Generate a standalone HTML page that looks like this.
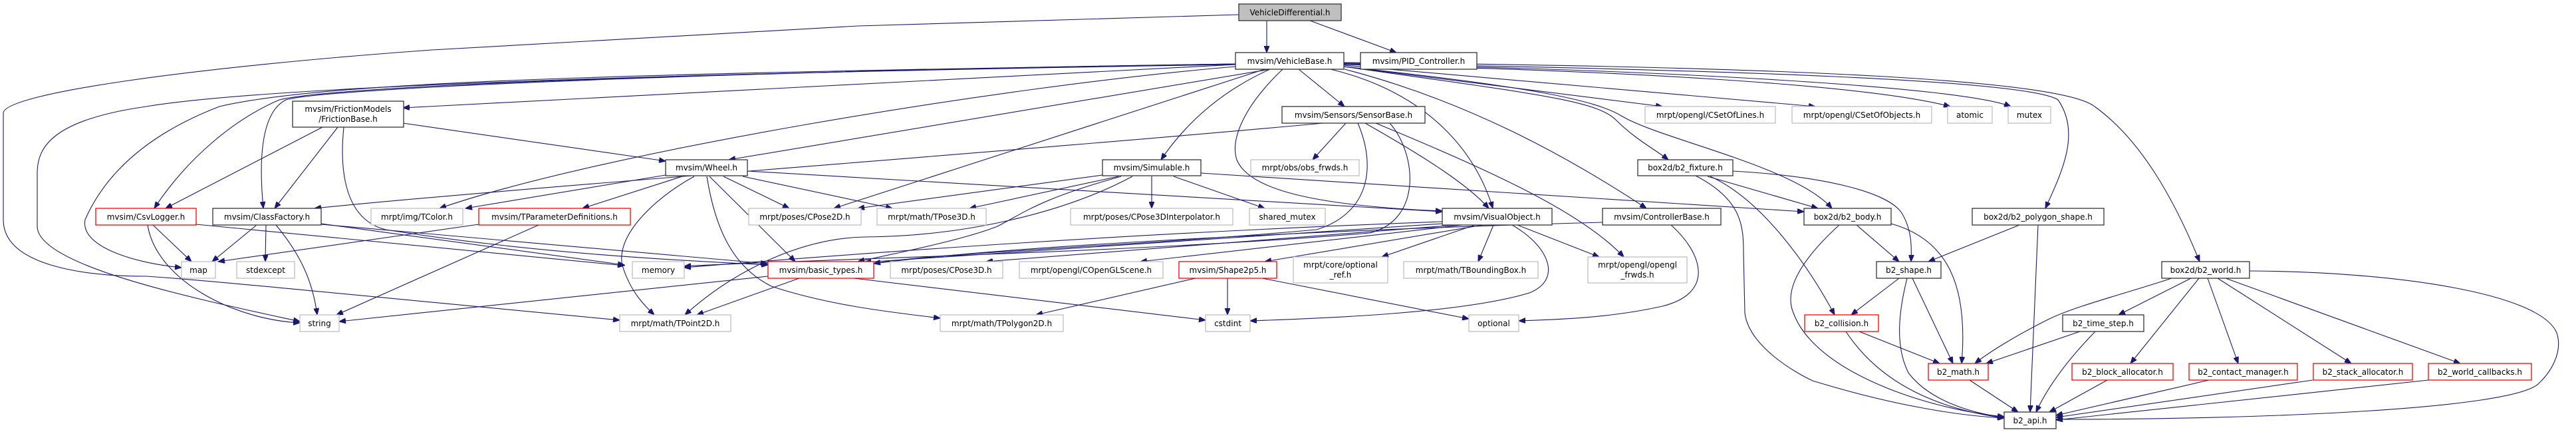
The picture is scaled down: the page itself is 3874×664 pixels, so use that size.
<!DOCTYPE html>
<html><head><meta charset="utf-8"><style>
html,body{margin:0;padding:0;background:#fff;}
svg{display:block;}
text{font-family:"DejaVu Sans","Liberation Sans",sans-serif;font-size:12px;fill:#000;text-anchor:middle;}
.e{fill:none;stroke:#191970;stroke-width:1.1;marker-end:url(#a);}
.d{fill:#fff;stroke:#333;stroke-width:1.3;}
.g{fill:#fff;stroke:#bfbfbf;stroke-width:1.3;}
.r{fill:#fff;stroke:#ff0000;stroke-width:1.3;}
</style></head><body>
<svg width="3874" height="664" viewBox="0 0 3874 664" xmlns="http://www.w3.org/2000/svg">
<defs><marker id="a" markerUnits="userSpaceOnUse" markerWidth="11" markerHeight="8" refX="10" refY="4" orient="auto"><path d="M0,0 L10,4 L0,8 z" fill="#191970" stroke="#191970"/></marker></defs>
<g>
<path class="e" d="M1905,31 L1905,79"/>
<path class="e" d="M1970,31 L2100,79"/>
<path class="e" d="M1863,22 L1290,39 L650,75 C300,100 5,140 5,170 L5,330 C5,400 130,415 220,415 C300,420 500,440 932,481"/>
<path class="e" d="M1858,97 L606,162"/>
<path class="e" d="M1858,96 C1000,110 500,130 420,150 C350,180 280,240 232,313"/>
<path class="e" d="M1858,96 C1200,105 500,130 430,150 C390,170 390,250 396,313"/>
<path class="e" d="M1858,96 C1000,110 500,120 330,160 C200,210 150,280 128,330 C120,370 200,395 273,402"/>
<path class="e" d="M1858,97 C1000,110 400,130 220,160 C80,180 56,220 56,260 L56,340 C56,400 300,450 451,483"/>
<path class="e" d="M1858,100 C1500,130 900,230 661,313"/>
<path class="e" d="M1910,104 L1096,240"/>
<path class="e" d="M606,185 L1001,242"/>
<path class="e" d="M1902,104 L1254,313"/>
<path class="e" d="M1910,104 C1830,140 1780,190 1746,240"/>
<path class="e" d="M1929,104 C1870,160 1850,210 1860,240 C1880,290 2000,310 2169,317"/>
<path class="e" d="M2001,104 C2150,140 2220,230 2245,313"/>
<path class="e" d="M1953,104 L2022,160"/>
<path class="e" d="M2022,104 C2200,150 2350,230 2476,313"/>
<path class="e" d="M2021,100 C2300,140 2400,150 2430,180 C2460,210 2490,225 2509,240"/>
<path class="e" d="M2021,100 L2500,160"/>
<path class="e" d="M2021,100 C2300,130 2400,150 2440,175 C2500,210 2700,250 2755,313"/>
<path class="e" d="M2021,98 L2730,160"/>
<path class="e" d="M2021,97 C2400,105 2800,125 2933,160"/>
<path class="e" d="M2021,96 C2500,105 2950,130 3024,160"/>
<path class="e" d="M2021,95 C2600,105 3050,120 3095,150 C3130,200 3100,260 3076,313"/>
<path class="e" d="M2021,94 C2700,100 3100,120 3150,160 C3220,210 3270,300 3308,393"/>
<path class="e" d="M485,191 L249,313"/>
<path class="e" d="M508,191 L413,313"/>
<path class="e" d="M517,191 C510,260 520,330 580,345 C800,380 1000,390 1155,398"/>
<path class="e" d="M1990,185 C1500,230 800,280 473,313"/>
<path class="e" d="M2024,185 L1974,240"/>
<path class="e" d="M2053,185 C2150,240 2210,280 2239,313"/>
<path class="e" d="M2069,185 C2250,260 2380,320 2442,386"/>
<path class="e" d="M2042,185 C2070,250 2060,320 1980,345 C1700,370 1400,380 1314,396"/>
<path class="e" d="M2090,185 C2130,230 2140,330 2060,350 C1700,380 1200,390 1029,400"/>
<path class="e" d="M1026,265 L876,313"/>
<path class="e" d="M1001,263 L700,313"/>
<path class="e" d="M1044,265 C980,300 920,360 938,405 C950,440 970,460 984,473"/>
<path class="e" d="M1063,265 C1075,340 1100,400 1160,430 C1250,460 1350,470 1414,478"/>
<path class="e" d="M1067,265 L1196,393"/>
<path class="e" d="M1088,265 L1187,313"/>
<path class="e" d="M1117,265 L1342,313"/>
<path class="e" d="M1124,257 L2169,318"/>
<path class="e" d="M1658,263 L1290,313"/>
<path class="e" d="M1682,265 L1458,313"/>
<path class="e" d="M1732,265 L1732,313"/>
<path class="e" d="M1765,265 L1902,313"/>
<path class="e" d="M1686,265 C1560,300 1540,320 1500,340 C1450,360 1350,380 1290,393"/>
<path class="e" d="M1703,265 C1600,320 1450,355 1300,356 C1200,358 1100,410 1030,473"/>
<path class="e" d="M1806,260 L2713,318"/>
<path class="e" d="M2169,333 C1700,350 1300,380 1029,402"/>
<path class="e" d="M2169,336 C1800,360 1500,380 1300,394"/>
<path class="e" d="M2190,338 L1483,393"/>
<path class="e" d="M2200,338 L1715,393"/>
<path class="e" d="M2230,338 L1902,393"/>
<path class="e" d="M2218,338 L2078,386"/>
<path class="e" d="M2246,338 L2223,393"/>
<path class="e" d="M2282,338 L2405,386"/>
<path class="e" d="M2274,338 C2330,370 2350,420 2300,440 C2200,470 2000,478 1880,482"/>
<path class="e" d="M2410,334 C2000,345 1500,370 1300,398"/>
<path class="e" d="M2513,338 C2560,380 2580,440 2500,460 C2420,478 2340,480 2284,482"/>
<path class="e" d="M1798,418 L1558,473"/>
<path class="e" d="M1846,418 L1846,473"/>
<path class="e" d="M1898,418 L2209,479"/>
<path class="e" d="M1155,415 L510,483"/>
<path class="e" d="M810,338 L506,473"/>
<path class="e" d="M1202,418 L1048,473"/>
<path class="e" d="M1284,418 L1813,481"/>
<path class="e" d="M386,338 L319,393"/>
<path class="e" d="M400,338 L399,393"/>
<path class="e" d="M415,338 C450,380 470,420 477,473"/>
<path class="e" d="M483,337 L1154,396"/>
<path class="e" d="M483,336 L939,398"/>
<path class="e" d="M230,338 L288,393"/>
<path class="e" d="M222,338 C235,420 350,480 451,485"/>
<path class="e" d="M295,337 L939,399"/>
<path class="e" d="M720,337 L328,393"/>
<path class="e" d="M2568,265 L2734,313"/>
<path class="e" d="M2606,257 C2750,265 2840,290 2860,320 C2875,345 2875,370 2874,393"/>
<path class="e" d="M2572,265 C2650,300 2720,400 2759,473"/>
<path class="e" d="M2550,264 C2620,300 2622,340 2622,380 L2624,470 C2630,520 2700,560 2726,572 C2850,610 2950,625 3014,628"/>
<path class="e" d="M2792,338 L2856,393"/>
<path class="e" d="M2844,336 C2930,360 2960,430 2950,546"/>
<path class="e" d="M2766,338 C2720,380 2680,430 2697,470 C2730,560 2900,615 3014,626"/>
<path class="e" d="M3037,338 L2900,393"/>
<path class="e" d="M3065,338 L3053,619"/>
<path class="e" d="M2856,418 L2784,473"/>
<path class="e" d="M2876,418 L2937,546"/>
<path class="e" d="M2868,418 C2855,470 2850,520 2870,560 C2900,600 2960,620 3014,627"/>
<path class="e" d="M2796,498 L2917,546"/>
<path class="e" d="M2776,498 C2830,580 2920,615 3014,628"/>
<path class="e" d="M2962,571 L3035,619"/>
<path class="e" d="M3266,418 C3200,440 3120,460 3080,480 C3030,505 2990,530 2970,546"/>
<path class="e" d="M3295,418 L3186,473"/>
<path class="e" d="M3307,418 L3204,546"/>
<path class="e" d="M3320,418 L3366,546"/>
<path class="e" d="M3335,418 L3536,546"/>
<path class="e" d="M3347,418 L3700,546"/>
<path class="e" d="M3383,407 C3600,408 3820,440 3845,500 C3855,530 3835,560 3818,576 C3780,615 3400,630 3092,630"/>
<path class="e" d="M3128,498 L2987,546"/>
<path class="e" d="M3151,498 C3110,540 3080,580 3062,619"/>
<path class="e" d="M3169,571 L3082,619"/>
<path class="e" d="M3322,571 L3092,624"/>
<path class="e" d="M3478,571 L3092,627"/>
<path class="e" d="M3652,571 L3092,631"/>
</g>
<g>
<rect x="1863" y="6" width="154" height="25" fill="#bfbfbf" stroke="#333" stroke-width="1.3"/><text x="1940" y="23">VehicleDifferential.h</text>
<rect class="d" x="1858" y="79" width="163" height="25"/><text x="1939.5" y="96">mvsim/VehicleBase.h</text>
<rect class="d" x="2046" y="79" width="175" height="25"/><text x="2133.5" y="96">mvsim/PID_Controller.h</text>
<rect class="d" x="440" y="152" width="167" height="39"/><text x="523.5" y="168">mvsim/FrictionModels</text><text x="523.5" y="183">/FrictionBase.h</text>
<rect class="d" x="1928" y="160" width="215" height="25"/><text x="2035.5" y="177">mvsim/Sensors/SensorBase.h</text>
<rect class="g" x="2474" y="160" width="196" height="25"/><text x="2572" y="177">mrpt/opengl/CSetOfLines.h</text>
<rect class="g" x="2695" y="160" width="210" height="25"/><text x="2800" y="177">mrpt/opengl/CSetOfObjects.h</text>
<rect class="g" x="2929" y="160" width="67" height="25"/><text x="2962.5" y="177">atomic</text>
<rect class="g" x="3020" y="160" width="64" height="25"/><text x="3052" y="177">mutex</text>
<rect class="d" x="1001" y="240" width="123" height="24"/><text x="1062.5" y="256">mvsim/Wheel.h</text>
<rect class="d" x="1658" y="240" width="148" height="24"/><text x="1732" y="256">mvsim/Simulable.h</text>
<rect class="g" x="1881" y="240" width="163" height="24"/><text x="1962.5" y="256">mrpt/obs/obs_frwds.h</text>
<rect class="d" x="2463" y="240" width="143" height="24"/><text x="2534.5" y="256">box2d/b2_fixture.h</text>
<rect class="r" x="144" y="313" width="151" height="25"/><text x="219.5" y="330">mvsim/CsvLogger.h</text>
<rect class="d" x="320" y="313" width="163" height="25"/><text x="401.5" y="330">mvsim/ClassFactory.h</text>
<rect class="g" x="558" y="313" width="138" height="25"/><text x="627" y="330">mrpt/img/TColor.h</text>
<rect class="r" x="720" y="313" width="228" height="25"/><text x="834" y="330">mvsim/TParameterDefinitions.h</text>
<rect class="g" x="1126" y="313" width="169" height="25"/><text x="1210.5" y="330">mrpt/poses/CPose2D.h</text>
<rect class="g" x="1319" y="313" width="164" height="25"/><text x="1401" y="330">mrpt/math/TPose3D.h</text>
<rect class="g" x="1610" y="313" width="244" height="25"/><text x="1732" y="330">mrpt/poses/CPose3DInterpolator.h</text>
<rect class="g" x="1879" y="313" width="114" height="25"/><text x="1936" y="330">shared_mutex</text>
<rect class="d" x="2169" y="313" width="165" height="25"/><text x="2251.5" y="330">mvsim/VisualObject.h</text>
<rect class="d" x="2410" y="313" width="178" height="25"/><text x="2499" y="330">mvsim/ControllerBase.h</text>
<rect class="d" x="2713" y="313" width="131" height="25"/><text x="2778.5" y="330">box2d/b2_body.h</text>
<rect class="d" x="2966" y="313" width="198" height="25"/><text x="3065" y="330">box2d/b2_polygon_shape.h</text>
<rect class="g" x="273" y="393" width="51" height="25"/><text x="298.5" y="410">map</text>
<rect class="g" x="356" y="393" width="87" height="25"/><text x="399.5" y="410">stdexcept</text>
<rect class="g" x="951" y="393" width="78" height="25"/><text x="990" y="410">memory</text>
<rect class="r" x="1155" y="393" width="159" height="25"/><text x="1234.5" y="410">mvsim/basic_types.h</text>
<rect class="g" x="1339" y="393" width="169" height="25"/><text x="1423.5" y="410">mrpt/poses/CPose3D.h</text>
<rect class="g" x="1533" y="393" width="216" height="25"/><text x="1641" y="410">mrpt/opengl/COpenGLScene.h</text>
<rect class="r" x="1773" y="393" width="147" height="25"/><text x="1846.5" y="410">mvsim/Shape2p5.h</text>
<rect class="g" x="1945" y="386" width="142" height="39"/><text x="2016" y="402">mrpt/core/optional</text><text x="2016" y="417">_ref.h</text>
<rect class="g" x="2111" y="393" width="202" height="25"/><text x="2212" y="410">mrpt/math/TBoundingBox.h</text>
<rect class="g" x="2388" y="386" width="149" height="39"/><text x="2462.5" y="402">mrpt/opengl/opengl</text><text x="2462.5" y="417">_frwds.h</text>
<rect class="d" x="2822" y="393" width="97" height="25"/><text x="2870.5" y="410">b2_shape.h</text>
<rect class="d" x="3251" y="393" width="132" height="25"/><text x="3317" y="410">box2d/b2_world.h</text>
<rect class="g" x="451" y="473" width="59" height="25"/><text x="480.5" y="490">string</text>
<rect class="g" x="932" y="473" width="167" height="25"/><text x="1015.5" y="490">mrpt/math/TPoint2D.h</text>
<rect class="g" x="1414" y="473" width="185" height="25"/><text x="1506.5" y="490">mrpt/math/TPolygon2D.h</text>
<rect class="g" x="1813" y="473" width="67" height="25"/><text x="1846.5" y="490">cstdint</text>
<rect class="g" x="2209" y="473" width="75" height="25"/><text x="2246.5" y="490">optional</text>
<rect class="r" x="2714" y="473" width="111" height="25"/><text x="2769.5" y="490">b2_collision.h</text>
<rect class="d" x="3102" y="473" width="122" height="25"/><text x="3163" y="490">b2_time_step.h</text>
<rect class="r" x="2900" y="546" width="90" height="25"/><text x="2945" y="563">b2_math.h</text>
<rect class="r" x="3116" y="546" width="152" height="25"/><text x="3192" y="563">b2_block_allocator.h</text>
<rect class="r" x="3292" y="546" width="163" height="25"/><text x="3373.5" y="563">b2_contact_manager.h</text>
<rect class="r" x="3479" y="546" width="149" height="25"/><text x="3553.5" y="563">b2_stack_allocator.h</text>
<rect class="r" x="3652" y="546" width="155" height="25"/><text x="3729.5" y="563">b2_world_callbacks.h</text>
<rect class="d" x="3014" y="619" width="78" height="25"/><text x="3053" y="636">b2_api.h</text>
</g>
</svg>
</body></html>
